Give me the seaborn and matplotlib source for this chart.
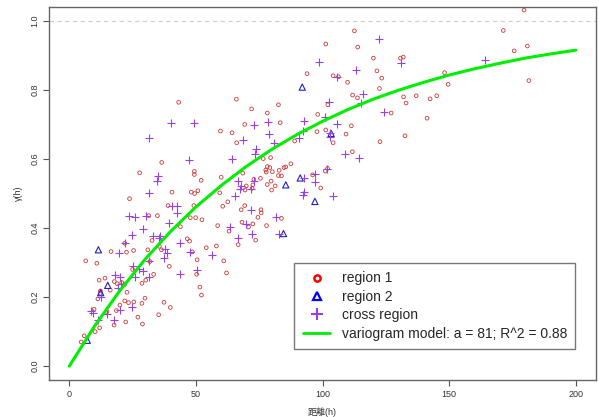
import numpy as np
import pandas as pd
import matplotlib
matplotlib.use("Agg")
import matplotlib.pyplot as plt
import seaborn as sns
from matplotlib.lines import Line2D

# semivariance points, by pair type
region1_h = [
    23.8, 39.0, 49.2, 31.4, 34.8, 47.8, 49.9, 52.4, 43.9, 46.6, 47.5, 32.7, 21.9, 16.5, 22.6,
    25.4, 31.0, 36.4, 35.6, 31.8, 39.5, 6.5, 10.9, 54.1, 48.6, 50.5, 50.3, 51.6, 52.2, 33.3,
    28.7, 30.2, 25.0, 11.8, 14.1, 17.8, 18.9, 21.9, 20.7, 16.2, 22.8, 12.3, 12.3, 11.3, 9.8,
    21.9, 23.4, 25.5, 28.7, 29.9, 20.0, 37.4, 39.9, 18.6, 14.9, 35.3, 27.1, 22.3, 28.9, 17.7,
    12.0, 10.2, 5.9, 4.7,
    43.2, 36.5, 27.8, 49.4, 49.4, 52.1, 40.6, 48.2, 49.5, 50.8,
    112.6, 101.3, 113.9, 120.1, 93.9, 104.2, 106.3, 109.9, 111.9, 113.8, 66.0, 82.6, 72.0,
    78.2, 98.1, 102.1, 69.3, 83.3, 59.7, 64.3, 111.4, 97.8, 101.3, 109.3, 104.2, 66.1, 89.0,
    111.8, 76.6, 79.5, 78.2, 79.2, 77.6, 77.8, 80.2, 82.9, 84.8, 85.5, 87.5, 82.6, 83.8, 75.5,
    79.7, 78.2, 81.3, 72.9, 72.5, 68.5, 60.0, 69.9, 72.2, 69.4, 59.4, 101.1, 102.0, 96.1,
    99.3, 79.9,
    60.6, 62.6, 67.9, 69.3, 75.7, 75.8, 74.5, 68.2, 70.8, 72.5, 77.9, 83.8, 58.6, 63.1, 73.6,
    66.7, 58.1, 61.0, 62.1,
    179.6, 171.4, 180.9, 175.7, 181.5, 130.8, 131.9, 121.5, 123.4, 122.5, 148.2, 149.6, 132.0,
    133.0, 137.0, 142.5, 145.1, 127.1, 141.3, 132.6, 122.7,
]
region1_g = [
    0.485, 0.465, 0.465, 0.436, 0.436, 0.430, 0.430, 0.424, 0.404, 0.369, 0.362, 0.364, 0.356,
    0.332, 0.330, 0.335, 0.337, 0.337, 0.347, 0.303, 0.289, 0.305, 0.298, 0.343, 0.331, 0.308,
    0.266, 0.229, 0.206, 0.266, 0.240, 0.249, 0.280, 0.249, 0.255, 0.245, 0.239, 0.237, 0.242,
    0.220, 0.214, 0.218, 0.211, 0.195, 0.165, 0.189, 0.184, 0.186, 0.182, 0.197, 0.177, 0.185,
    0.170, 0.161, 0.158, 0.149, 0.142, 0.128, 0.122, 0.119, 0.111, 0.100, 0.088, 0.070,
    0.764, 0.590, 0.560, 0.564, 0.555, 0.538, 0.504, 0.504, 0.500, 0.508,
    0.971, 0.933, 0.924, 0.892, 0.847, 0.841, 0.838, 0.822, 0.785, 0.777, 0.773, 0.757, 0.745,
    0.733, 0.729, 0.757, 0.700, 0.705, 0.681, 0.676, 0.696, 0.679, 0.684, 0.672, 0.647, 0.647,
    0.652, 0.621, 0.601, 0.604, 0.578, 0.575, 0.568, 0.562, 0.563, 0.567, 0.575, 0.577, 0.586,
    0.552, 0.551, 0.544, 0.536, 0.526, 0.522, 0.541, 0.525, 0.559, 0.547, 0.522, 0.515, 0.510,
    0.502, 0.565, 0.573, 0.554, 0.516, 0.510,
    0.463, 0.476, 0.453, 0.465, 0.453, 0.444, 0.431, 0.417, 0.403, 0.412, 0.407, 0.428, 0.407,
    0.391, 0.365, 0.352, 0.348, 0.305, 0.270,
    1.031, 0.972, 0.927, 0.913, 0.827, 0.892, 0.895, 0.855, 0.834, 0.804, 0.850, 0.816, 0.780,
    0.762, 0.783, 0.774, 0.783, 0.733, 0.718, 0.667, 0.650,
]

region2_h = [11.5, 15.2, 12.4, 7.1, 92.0, 103.4, 91.2, 85.5, 84.6, 97.0]
region2_g = [0.337, 0.234, 0.213, 0.075, 0.808, 0.674, 0.545, 0.525, 0.384, 0.477]

cross_h = [
    23.7, 26.0, 30.5, 40.6, 42.7, 42.6, 39.5, 29.3, 24.6, 33.1, 35.8, 35.3, 21.9, 19.6, 38.0,
    38.4, 37.6, 43.6, 47.5, 56.4, 31.3, 25.1, 27.5, 29.2, 18.2, 19.9, 25.9, 31.3, 19.2, 20.4,
    43.9, 50.3, 12.6, 24.8, 20.0, 8.5, 9.5, 15.0, 11.3, 17.6,
    40.3, 49.1, 31.4, 47.4, 35.1, 34.6, 31.4,
    98.7, 113.4, 105.7, 115.9, 102.6, 115.1, 101.1, 105.7, 92.8, 78.3, 72.9, 92.2, 102.9,
    103.0, 78.9, 90.7, 80.8, 68.5, 73.7, 73.3, 64.1, 108.9, 114.4, 101.7, 96.9, 97.1, 92.6,
    73.1, 66.5, 67.9, 67.4, 71.6, 92.6,
    65.5, 71.6, 81.8, 63.6, 69.8, 72.0, 66.5, 83.0, 104.2, 92.4,
    122.4, 131.1, 164.2, 124.2,
]
cross_g = [
    0.434, 0.431, 0.436, 0.465, 0.465, 0.444, 0.414, 0.397, 0.379, 0.378, 0.377, 0.370, 0.356,
    0.328, 0.340, 0.327, 0.314, 0.357, 0.331, 0.323, 0.306, 0.290, 0.280, 0.276, 0.265, 0.257,
    0.257, 0.259, 0.226, 0.239, 0.267, 0.279, 0.201, 0.170, 0.162, 0.159, 0.154, 0.150, 0.134,
    0.134,
    0.705, 0.704, 0.662, 0.597, 0.552, 0.537, 0.502,
    0.880, 0.858, 0.838, 0.787, 0.764, 0.762, 0.722, 0.700, 0.709, 0.708, 0.699, 0.681, 0.674,
    0.663, 0.672, 0.660, 0.647, 0.654, 0.630, 0.615, 0.599, 0.615, 0.604, 0.572, 0.557, 0.533,
    0.544, 0.536, 0.537, 0.521, 0.514, 0.514, 0.504,
    0.492, 0.451, 0.432, 0.403, 0.412, 0.382, 0.372, 0.383, 0.493, 0.497,
    0.947, 0.878, 0.887, 0.737,
]

# fitted variogram curve, read at every 10 units of distance
model_h = [0, 10, 20, 30, 40, 50, 60, 70, 80, 90, 100, 110, 120, 130, 140, 150, 160, 170,
           180, 190, 200]
model_g = [0.0, 0.116, 0.219, 0.310, 0.390, 0.461, 0.523, 0.579, 0.628, 0.671, 0.709,
           0.743, 0.773, 0.799, 0.822, 0.843, 0.861, 0.877, 0.892, 0.904, 0.915]

legend_labels = ["region 1", "region 2", "cross region",
                 "variogram model: a = 81; R^2 = 0.88"]

sns.set_style("white")
plt.rcParams["font.family"] = ["Liberation Sans", "Noto Sans CJK SC", "DejaVu Sans"]

fig = plt.figure(figsize=(5.99, 4.17), dpi=100)
ax = fig.add_axes([49 / 599, 1 - 380 / 417, 547 / 599, 373 / 417])

ax.axhline(1.0, color="#cccccc", linestyle=(0, (4, 3)), linewidth=0.8, zorder=0)

sns.scatterplot(x=region1_h, y=region1_g, ax=ax, marker="o", s=7,
                facecolors="none", edgecolor="#cc3a3a", linewidth=0.6, zorder=3)
sns.scatterplot(x=region2_h, y=region2_g, ax=ax, marker="^", s=20,
                facecolors="none", edgecolor="#2020c0", linewidth=0.8, zorder=3)
sns.scatterplot(x=cross_h, y=cross_g, ax=ax, marker="+", s=30,
                color="#9b40e0", linewidth=0.8, zorder=3)
sns.lineplot(x=model_h, y=model_g, ax=ax, color="#00ee00", linewidth=2.2, zorder=4)

ax.set_xlim(-8, 208)
ax.set_ylim(-0.04, 1.04)
ax.set_xticks([0, 50, 100, 150, 200])
ax.set_yticks([0.0, 0.2, 0.4, 0.6, 0.8, 1.0])
ax.set_yticklabels(["0.0", "0.2", "0.4", "0.6", "0.8", "1.0"], rotation=90, va="center")
ax.tick_params(axis="both", direction="out", length=4, width=0.8, color="#555555",
               labelsize=6.5, labelcolor="#333333", pad=3, bottom=True, left=True)
for sp in ax.spines.values():
    sp.set_color("#666666")
    sp.set_linewidth(1.0)

ax.set_xlabel("距離(h)", fontsize=6.5, color="#333333", labelpad=6)
ax.set_ylabel("γ(h)", fontsize=6.5, color="#333333", labelpad=5)

handles = [
    Line2D([], [], linestyle="none", marker="o", markersize=4.5, markerfacecolor="none",
           markeredgecolor="red", markeredgewidth=1.8),
    Line2D([], [], linestyle="none", marker="^", markersize=6, markerfacecolor="none",
           markeredgecolor="blue", markeredgewidth=1.6),
    Line2D([], [], linestyle="none", marker="+", markersize=8, color="#9b40e0",
           markeredgewidth=1.5),
    Line2D([], [], color="#00ee00", linewidth=2.0),
]
leg = ax.legend(handles, legend_labels, loc="lower right",
                bbox_to_anchor=(0.962, 0.083), borderaxespad=0, fontsize=10,
                frameon=True, fancybox=False, framealpha=1, edgecolor="#777777",
                handlelength=2.0, handletextpad=0.8, labelspacing=0.32,
                borderpad=0.6)
leg.get_frame().set_linewidth(1.0)

fig.savefig("out.png", dpi=100)
